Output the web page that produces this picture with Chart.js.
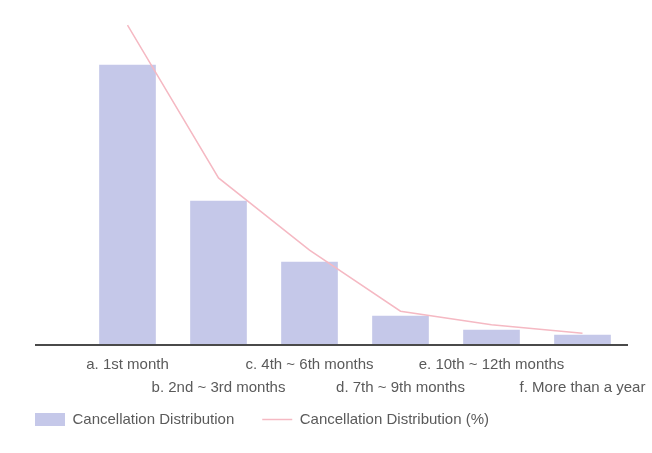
<!DOCTYPE html>
<html>
<head>
<meta charset="utf-8">
<script src="https://cdn.jsdelivr.net/npm/chart.js@4.4.1/dist/chart.umd.min.js"></script>
<style>
  html, body { margin: 0; padding: 0; background: #fff; }
  #wrap { width: 652px; height: 453px; }
</style>
</head>
<body>
<div id="wrap"><canvas id="myChart"></canvas></div>
<script>
// categories
const categories = [
    'a. 1st month',
    'b. 2nd ~ 3rd months',
    'c. 4th ~ 6th months',
    'd. 7th ~ 9th months',
    'e. 10th ~ 12th months',
    'f. More than a year'
];

// bar series (counts)
const cancellations = [280, 144, 83, 29, 15, 10];

// line series (% of all cancellations)
const cancellationPct = [49.2, 25.7, 14.6, 5.2, 3.1, 1.8];

const barColor = 'rgb(197, 200, 233)';
const lineColor = 'rgb(245, 185, 195)';
const textColor = '#5a5a5a';

Chart.defaults.font.family = '"Liberation Sans", Arial, sans-serif';
Chart.defaults.font.size = 15;
Chart.defaults.color = textColor;

// baseline that runs past the plot area to the left, like the original
const baseline = {
    id: 'baseline',
    afterDatasetsDraw(chart) {
        const ctx = chart.ctx;
        const y = chart.scales.x.top;
        ctx.save();
        ctx.strokeStyle = '#4a4a4a';
        ctx.lineWidth = 2;
        ctx.beginPath();
        ctx.moveTo(35, y);
        ctx.lineTo(chart.chartArea.right, y);
        ctx.stroke();
        ctx.restore();
    }
};

// legend sits closer to the tick labels than chart.js would put it
const legendShift = {
    id: 'legendShift',
    afterLayout(chart) {
        const lg = chart.legend;
        const h = lg.height;
        lg.top = 384;
        lg.bottom = lg.top + h;
    }
};

const data = {
    labels: categories,
    datasets: [{
        type: 'line',
        label: 'Cancellation Distribution (%)',
        data: cancellationPct,
        yAxisID: 'y1',
        borderColor: lineColor,
        backgroundColor: lineColor,
        borderWidth: 1.5,
        pointRadius: 0,
        pointStyle: 'line',
        tension: 0,
        order: 0
    }, {
        type: 'bar',
        label: 'Cancellation Distribution',
        data: cancellations,
        yAxisID: 'y',
        backgroundColor: barColor,
        borderWidth: 0,
        pointStyle: 'rect',
        barThickness: 56,
        order: 1
    }]
};

const config = {
    data: data,
    options: {
        responsive: true,
        maintainAspectRatio: false,
        animation: false,
        layout: {
            padding: { left: 7, right: 24, top: 20, bottom: -8 }
        },
        plugins: {
            legend: {
                position: 'bottom',
                align: 'start',
                reverse: true,
                labels: {
                    usePointStyle: true,
                    pointStyleWidth: 30,
                    boxHeight: 13,
                    padding: 28,
                    color: textColor
                }
            },
            tooltip: { enabled: false }
        },
        scales: {
            x: {
                offset: true,
                grid: { display: false, drawTicks: false },
                border: { display: false },
                ticks: {
                    autoSkip: false,
                    maxRotation: 0,
                    padding: 9,
                    font: { lineHeight: 1.5 },
                    callback: function (value, index) {
                        const lbl = categories[index];
                        return index % 2 === 0 ? [lbl, ''] : ['', lbl];
                    }
                },
                afterFit: function (scale) {
                    scale.paddingLeft = 0;
                    scale.paddingRight = 0;
                }
            },
            y: {
                min: 0,
                max: 325,
                grid: { display: false },
                border: { display: false },
                ticks: { display: false },
                afterFit: function (scale) { scale.width = 75; }
            },
            y1: {
                display: false,
                min: 0,
                max: 50
            }
        }
    },
    plugins: [baseline, legendShift]
};

// build chart
const myChart = new Chart(
    document.getElementById('myChart'),
    config
);
</script>
</body>
</html>
